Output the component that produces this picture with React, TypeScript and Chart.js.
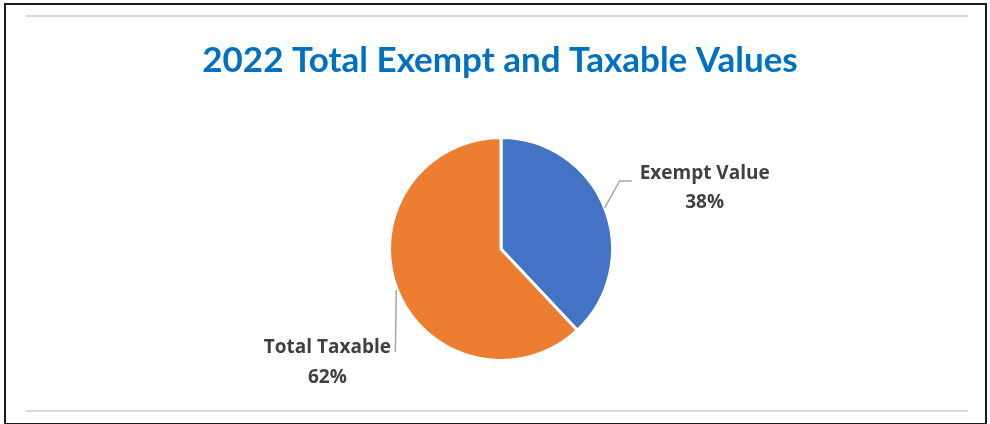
import React, { useEffect, useRef } from "react";
import { Chart, registerables } from "chart.js";

Chart.register(...registerables);

const TITLE = "2022 Total Exempt and Taxable Values";
const categories = ["Exempt Value", "Total Taxable"];
const values = [38, 62];
const percentLabels = ["38%", "62%"];
const colors = ["#4472C4", "#ED7D31"];

const W = 990;
const H = 424;

const framePlugin = {
  id: "frame",
  beforeDraw(chart: any) {
    const ctx = chart.ctx;
    ctx.save();
    ctx.fillStyle = "#ffffff";
    ctx.fillRect(0, 0, W, H);
    // outer border
    ctx.strokeStyle = "#1a1a1a";
    ctx.lineWidth = 2;
    ctx.strokeRect(5, 4, 981, 420);
    // gray rules
    ctx.strokeStyle = "#d9d9d9";
    ctx.lineWidth = 2;
    ctx.beginPath();
    ctx.moveTo(26, 16);
    ctx.lineTo(968, 16);
    ctx.moveTo(26, 411);
    ctx.lineTo(968, 411);
    ctx.stroke();
    // title
    ctx.fillStyle = "#0070C0";
    ctx.font = "bold 35px Lato";
    ctx.textAlign = "center";
    ctx.textBaseline = "middle";
    ctx.fillText(TITLE, 500, 61);
    ctx.restore();
  },
  afterDraw(chart: any) {
    const ctx = chart.ctx;
    const meta = chart.getDatasetMeta(0);
    ctx.save();
    ctx.font = "bold 19px 'Open Sans'";
    ctx.fillStyle = "#404040";
    ctx.textAlign = "center";
    ctx.textBaseline = "middle";
    ctx.strokeStyle = "#a6a6a6";
    ctx.lineWidth = 1.5;
    meta.data.forEach((arc: any, i: number) => {
      const p = arc.getProps(["x", "y", "startAngle", "endAngle", "outerRadius"], true);
      const mid = (p.startAngle + p.endAngle) / 2;
      const px = p.x + Math.cos(mid) * p.outerRadius;
      const py = p.y + Math.sin(mid) * p.outerRadius;
      ctx.beginPath();
      if (i === 0) {
        ctx.moveTo(px, py);
        ctx.lineTo(px + 15, py - 27);
        ctx.lineTo(px + 27, py - 27);
        ctx.stroke();
        ctx.fillText(categories[i], px + 100, py - 34);
        ctx.fillText(percentLabels[i], px + 100, py - 5);
      } else {
        ctx.moveTo(px - 1, py);
        ctx.lineTo(px - 2, py + 62);
        ctx.stroke();
        ctx.fillText(categories[i], px - 70, py + 58);
        ctx.fillText(percentLabels[i], px - 70, py + 88);
      }
    });
    ctx.restore();
  },
};

export default function App() {
  const ref = useRef<HTMLCanvasElement | null>(null);
  useEffect(() => {
    document.body.style.margin = "0";
    if (!ref.current) return;
    const chart = new Chart(ref.current, {
      type: "pie",
      data: {
        labels: categories,
        datasets: [
          {
            data: values,
            backgroundColor: colors,
            borderColor: "#ffffff",
            borderWidth: 3,
          },
        ],
      },
      options: {
        responsive: false,
        animation: false,
        devicePixelRatio: 1,
        layout: { padding: { top: 136, bottom: 62, left: 12, right: 0 } },
        plugins: {
          legend: { display: false },
          tooltip: { enabled: false },
          title: { display: false },
        },
      },
      plugins: [framePlugin],
    });
    return () => chart.destroy();
  }, []);
  return (
    <div style={{ position: "absolute", left: 0, top: 0, width: W, height: H }}>
      <canvas ref={ref} width={W} height={H} style={{ display: "block" }} />
    </div>
  );
}
